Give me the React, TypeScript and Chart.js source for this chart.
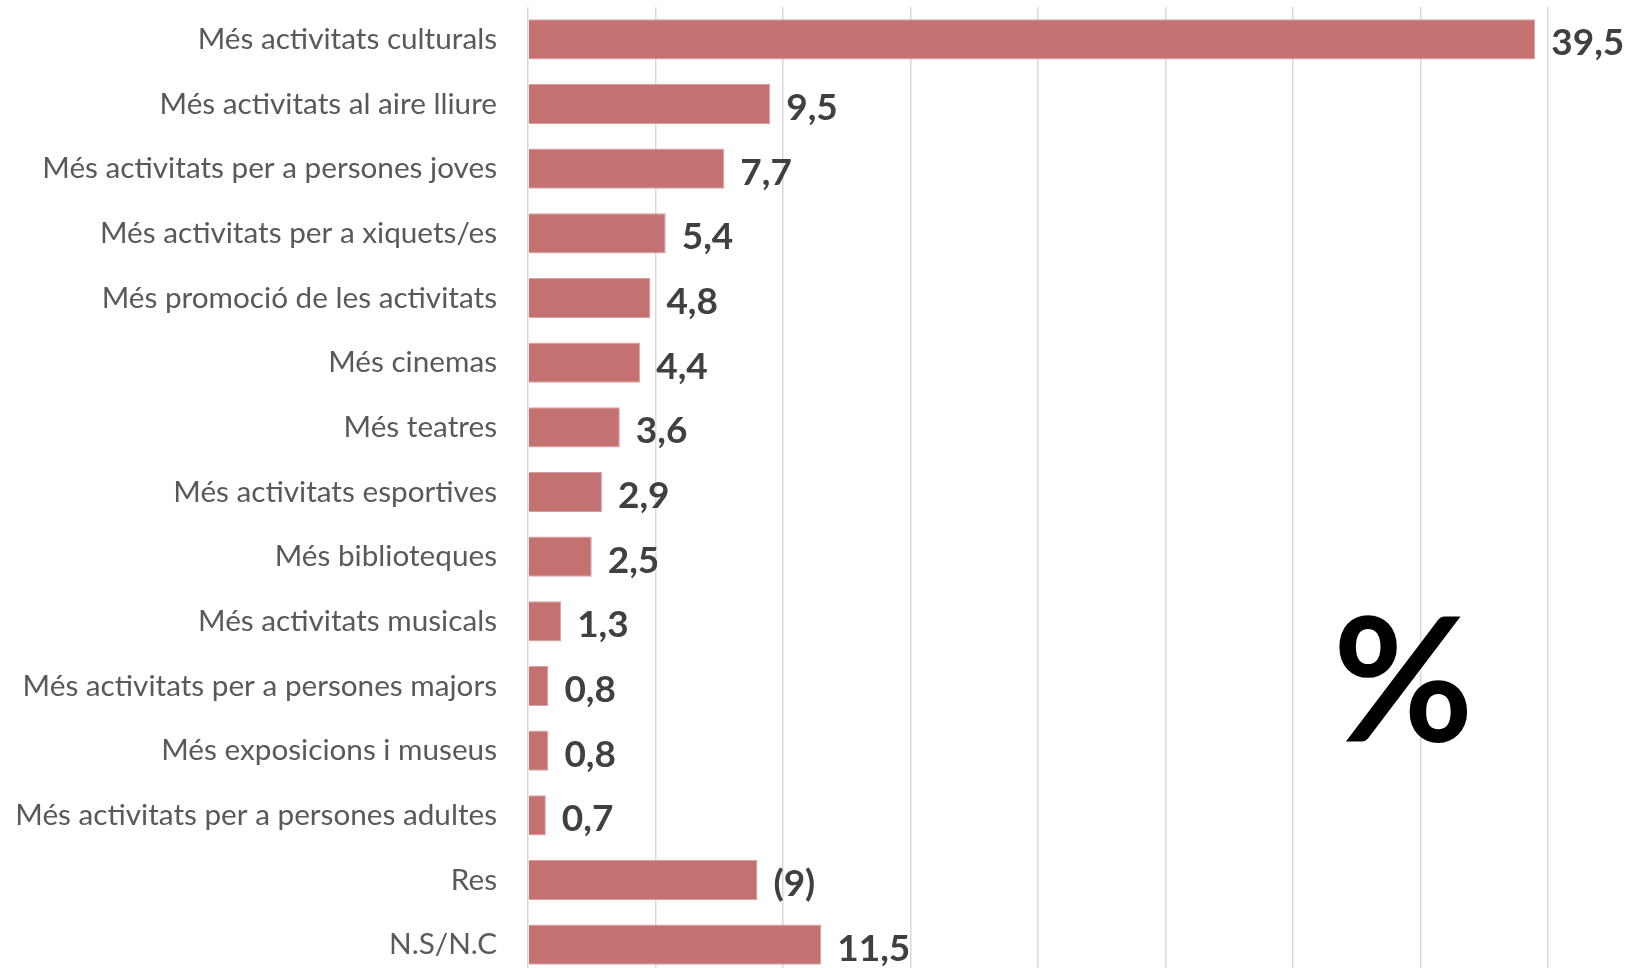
import React, { useEffect, useRef } from "react";
import { Chart, registerables } from "chart.js";

Chart.register(...registerables);

const categories: string[] = [
  "Més activitats culturals",
  "Més activitats al aire lliure",
  "Més activitats per a persones joves",
  "Més activitats per a xiquets/es",
  "Més promoció de les activitats",
  "Més cinemas",
  "Més teatres",
  "Més activitats esportives",
  "Més biblioteques",
  "Més activitats musicals",
  "Més activitats per a persones majors",
  "Més exposicions i museus",
  "Més activitats per a persones adultes",
  "Res",
  "N.S/N.C",
];

const values: number[] = [39.5, 9.5, 7.7, 5.4, 4.8, 4.4, 3.6, 2.9, 2.5, 1.3, 0.8, 0.8, 0.7, 9, 11.5];

const valueLabels: string[] = [
  "39,5", "9,5", "7,7", "5,4", "4,8", "4,4", "3,6", "2,9", "2,5", "1,3", "0,8", "0,8", "0,7", "(9)", "11,5",
];

const unitMark = "%";

const valueLabelPlugin = {
  id: "valueLabels",
  afterDatasetsDraw(chart: any) {
    const ctx = chart.ctx;
    const meta = chart.getDatasetMeta(0);
    ctx.save();
    ctx.font = "bold 37px Lato";
    ctx.fillStyle = "#404040";
    ctx.textAlign = "left";
    ctx.textBaseline = "middle";
    meta.data.forEach((bar: any, i: number) => {
      ctx.fillText(valueLabels[i], bar.x + 16, bar.y + 4);
    });
    ctx.restore();
  },
  afterDraw(chart: any) {
    const ctx = chart.ctx;
    const xs = chart.scales.x;
    const ys = chart.scales.y;
    ctx.save();
    ctx.font = "bold 172px Lato";
    ctx.fillStyle = "#000000";
    ctx.textAlign = "center";
    ctx.textBaseline = "alphabetic";
    const cx = xs.getPixelForValue(34.32);
    const cy = (ys.getPixelForValue(9) + ys.getPixelForValue(11)) / 2 + 55;
    ctx.fillText(unitMark, cx, cy);
    ctx.restore();
  },
};

export default function App() {
  const canvasRef = useRef<HTMLCanvasElement | null>(null);

  useEffect(() => {
    document.body.style.margin = "0";
    document.body.style.overflow = "hidden";
    document.documentElement.style.overflow = "hidden";
    const canvas = canvasRef.current;
    if (!canvas) return;
    const chart = new Chart(canvas, {
      type: "bar",
      data: {
        labels: categories,
        datasets: [
          {
            data: values,
            backgroundColor: "#c47172",
            borderColor: "#d9a2a2",
            borderWidth: 1,
            categoryPercentage: 1,
            barPercentage: 0.62,
          },
        ],
      },
      options: {
        indexAxis: "y",
        animation: false,
        responsive: false,
        maintainAspectRatio: false,
        layout: { padding: { top: 7, right: 87, bottom: 1, left: 0 } },
        plugins: {
          legend: { display: false },
          tooltip: { enabled: false },
        },
        scales: {
          x: {
            min: 0,
            max: 40,
            ticks: { display: false, stepSize: 5 },
            grid: { color: "#d9d9d9", lineWidth: 1.5, drawTicks: false },
            border: { display: false },
            afterFit(scale: any) {
              scale.height = 0;
              scale.paddingLeft = 0;
              scale.paddingRight = 0;
            },
          },
          y: {
            ticks: {
              color: "#595959",
              font: { family: "Lato", size: 29.7 },
              padding: 31,
            },
            grid: { display: false, drawTicks: false },
            border: { display: false },
            afterFit(scale: any) {
              scale.width = 528;
              scale.paddingTop = 0;
              scale.paddingBottom = 0;
            },
          },
        },
      },
      plugins: [valueLabelPlugin],
    });
    return () => chart.destroy();
  }, []);

  return (
    <div style={{ width: 1635, height: 968, overflow: "hidden", background: "#ffffff" }}>
      <canvas ref={canvasRef} width={1635} height={978} style={{ display: "block" }} />
    </div>
  );
}
